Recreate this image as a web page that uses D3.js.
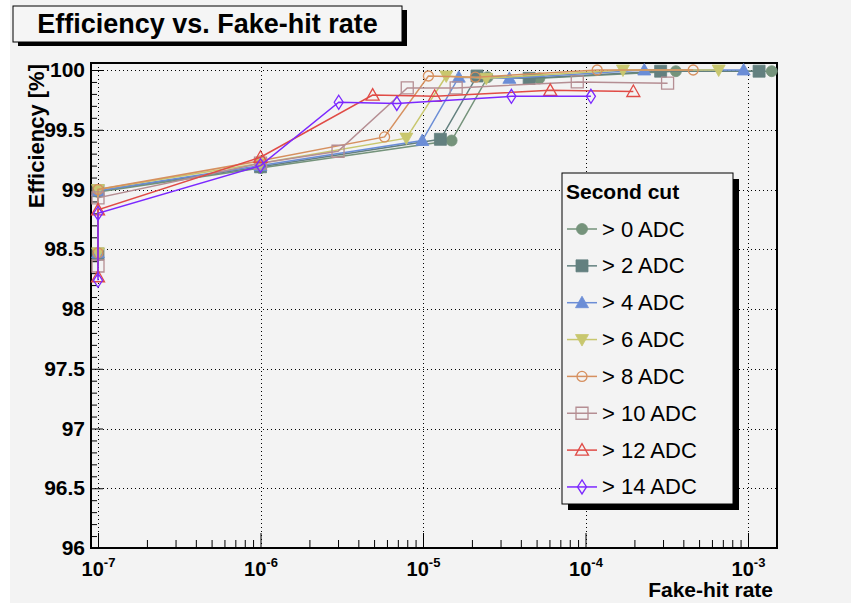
<!DOCTYPE html>
<html>
<head>
<meta charset="utf-8">
<script src="https://cdn.jsdelivr.net/npm/d3@7"></script>
<style>
  body { margin: 0; background: #fff; }
  text { font-family: "Liberation Sans", Arial, Helvetica, sans-serif; }
</style>
</head>
<body>
<svg id="chart" width="851" height="605"></svg>
<script>
// ---- data: fake-hit rate vs. efficiency [%] for each second-cut threshold ----
const cutLabels = ["> 0 ADC", "> 2 ADC", "> 4 ADC", "> 6 ADC", "> 8 ADC", "> 10 ADC", "> 12 ADC", "> 14 ADC"];

const rateGt0  = [1.40e-3, 3.6e-4, 5.2e-5, 2.5e-5, 1.5e-5, 1e-6, 1e-7, 1e-7];
const effGt0   = [99.99, 99.99, 99.93, 99.94, 99.41, 99.18, 98.98, 98.45];
const rateGt2  = [1.17e-3, 2.9e-4, 4.5e-5, 2.15e-5, 1.28e-5, 1e-6, 1e-7, 1e-7];
const effGt2   = [99.99, 99.99, 99.93, 99.95, 99.42, 99.19, 98.99, 98.46];
const rateGt4  = [9.4e-4, 2.3e-4, 3.4e-5, 1.66e-5, 9.9e-6, 1e-6, 1e-7, 1e-7];
const effGt4   = [100.0, 100.0, 99.93, 99.94, 99.41, 99.20, 98.99, 98.47];
const rateGt6  = [6.6e-4, 1.7e-4, 2.45e-5, 1.39e-5, 7.9e-6, 1e-6, 1e-7, 1e-7];
const effGt6   = [100.0, 100.0, 99.93, 99.95, 99.43, 99.22, 99.00, 98.47];
const rateGt8  = [4.6e-4, 1.18e-4, 2.1e-5, 1.08e-5, 5.8e-6, 1e-6, 1e-7, 1e-7];
const effGt8   = [100.0, 100.0, 99.94, 99.95, 99.44, 99.24, 99.00, 98.47];
const rateGt10 = [3.2e-4, 8.9e-5, 1.6e-5, 8.0e-6, 3.0e-6, 1e-6, 1e-7, 1e-7];
const effGt10  = [99.89, 99.90, 99.85, 99.85, 99.32, 99.22, 98.93, 98.36];
const rateGt12 = [1.97e-4, 6.07e-5, 1.18e-5, 4.9e-6, 1e-6, 1e-7, 1e-7];
const effGt12  = [99.82, 99.83, 99.78, 99.79, 99.27, 98.83, 98.27];
const rateGt14 = [1.08e-4, 3.5e-5, 6.9e-6, 3.03e-6, 1e-6, 1e-7, 1e-7];
const effGt14  = [99.78, 99.78, 99.72, 99.73, 99.20, 98.80, 98.24];

const yMajorTicks = [96, 96.5, 97, 97.5, 98, 98.5, 99, 99.5, 100];
const xDecadeTicks = [1e-7, 1e-6, 1e-5, 1e-4, 1e-3];
const xDecadeExponents = ["-7", "-6", "-5", "-4", "-3"];

// ---- styles ----
const seriesColors = ["#75937b", "#63807f", "#6b8dd6", "#c8c76e", "#d6905f", "#b58e93", "#e04b46", "#7b28ff"];
const markerKinds = ["circleFull", "squareFull", "triUpFull", "triDownFull", "circleOpen", "squareOpen", "triUpOpen", "diamondOpen"];

const rates = [rateGt0, rateGt2, rateGt4, rateGt6, rateGt8, rateGt10, rateGt12, rateGt14];
const effs  = [effGt0, effGt2, effGt4, effGt6, effGt8, effGt10, effGt12, effGt14];
const series = cutLabels.map((label, i) => ({
  label,
  color: seriesColors[i],
  marker: markerKinds[i],
  points: rates[i].map((r, j) => ({ rate: r, eff: effs[i][j] }))
}));

// ---- layout ----
const svg = d3.select("#chart");
const frame = { left: 91, right: 777, top: 63, bottom: 548 };

// canvas background
svg.append("rect").attr("x", 10).attr("y", 0).attr("width", 841).attr("height", 603).attr("fill", "#f3f3f3");

const x = d3.scaleLog()
  .domain([Math.pow(10, -7 - 7 / 162.5), Math.pow(10, -3 + 29 / 162.5)])
  .range([frame.left, frame.right]);
const y = d3.scaleLinear()
  .domain([96, 100 + 7 / 119.5])
  .range([frame.bottom, frame.top]);

// dotted grid
const grid = svg.append("g").attr("stroke", "#000").attr("stroke-width", 1).attr("stroke-dasharray", "1,3");
grid.selectAll("line.gy").data(yMajorTicks.filter(v => v > 96)).join("line")
  .attr("x1", frame.left).attr("x2", frame.right)
  .attr("y1", d => Math.round(y(d)) + 0.5).attr("y2", d => Math.round(y(d)) + 0.5);
grid.selectAll("line.gx").data(xDecadeTicks).join("line")
  .attr("x1", d => Math.round(x(d)) + 0.5).attr("x2", d => Math.round(x(d)) + 0.5)
  .attr("y1", frame.top).attr("y2", frame.bottom);

// y axis
const yMinor = d3.range(960, 1001).map(v => v / 10).filter(v => Math.abs(v * 2 - Math.round(v * 2)) > 1e-6);
svg.append("g").attr("transform", `translate(${frame.left},0)`)
  .call(d3.axisLeft(y).tickValues(yMinor).tickSize(-6).tickFormat(""))
  .call(g => g.select(".domain").remove())
  .call(g => g.selectAll("line").attr("stroke", "#000"));
svg.append("g").attr("transform", `translate(${frame.left},0)`)
  .call(d3.axisLeft(y).tickValues(yMajorTicks).tickSize(-12).tickPadding(6).tickFormat(d3.format("")))
  .call(g => g.select(".domain").remove())
  .call(g => g.selectAll("line").attr("stroke", "#000"))
  .call(g => g.selectAll("text")
    .attr("font-size", 21).attr("font-weight", "bold").attr("fill", "#000")
    .attr("font-family", "'Liberation Sans', Arial, sans-serif"));

// x axis
const xMinor = [];
xDecadeTicks.forEach(d => { for (let k = 2; k <= 9; k++) { const v = d * k; if (v < x.domain()[1]) xMinor.push(v); } });
svg.append("g").attr("transform", `translate(0,${frame.bottom})`)
  .call(d3.axisBottom(x).tickValues(xMinor).tickSize(-8).tickFormat(""))
  .call(g => g.select(".domain").remove())
  .call(g => g.selectAll("line").attr("stroke", "#000"));
const xAxisG = svg.append("g").attr("transform", `translate(0,${frame.bottom})`)
  .call(d3.axisBottom(x).tickValues(xDecadeTicks).tickSize(-15).tickFormat(""))
  .call(g => g.select(".domain").remove())
  .call(g => g.selectAll("line").attr("stroke", "#000"));
xAxisG.selectAll(".tick text").remove();
xAxisG.selectAll(".tick").each(function(d, i) {
  const t = d3.select(this).append("text")
    .attr("y", 28).attr("text-anchor", "middle").attr("fill", "#000")
    .attr("font-weight", "bold").attr("font-family", "'Liberation Sans', Arial, sans-serif");
  t.append("tspan").attr("font-size", 20).text("10");
  t.append("tspan").attr("font-size", 13).attr("dy", -9).text(xDecadeExponents[i]);
});

// frame
svg.append("rect")
  .attr("x", frame.left).attr("y", frame.top)
  .attr("width", frame.right - frame.left).attr("height", frame.bottom - frame.top)
  .attr("fill", "none").attr("stroke", "#000").attr("stroke-width", 2);

// axis titles
svg.append("text").attr("x", 773).attr("y", 597).attr("text-anchor", "end")
  .attr("font-size", 21).attr("font-weight", "bold").text("Fake-hit rate");
svg.append("text").attr("transform", "translate(44,64) rotate(-90)").attr("text-anchor", "end")
  .attr("font-size", 22).attr("font-weight", "bold").text("Efficiency [%]");

// marker shapes
const markerPath = {
  circleFull:  d3.symbol(d3.symbolCircle, Math.PI * 5.5 * 5.5)(),
  squareFull:  "M-6,-6h12v12h-12Z",
  triUpFull:   "M0,-6.5L6.5,5L-6.5,5Z",
  triDownFull: "M0,6.5L6.5,-5L-6.5,-5Z",
  circleOpen:  d3.symbol(d3.symbolCircle, Math.PI * 5 * 5)(),
  squareOpen:  "M-6,-6h12v12h-12Z",
  triUpOpen:   "M0,-6.5L6.5,5L-6.5,5Z",
  diamondOpen: "M0,-7L4.5,0L0,7L-4.5,0Z"
};
const isOpen = k => k.endsWith("Open");
function drawMarker(sel, kind, color) {
  sel.attr("d", markerPath[kind])
    .attr("fill", isOpen(kind) ? "none" : color)
    .attr("stroke", color)
    .attr("stroke-width", isOpen(kind) ? 1.3 : 0.8);
}

// series lines and markers
const line = d3.line().x(d => x(d.rate)).y(d => y(d.eff));
const plot = svg.append("g");
series.forEach(s => {
  const g = plot.append("g");
  g.append("path").attr("d", line(s.points)).attr("fill", "none")
    .attr("stroke", s.color).attr("stroke-width", 1.5);
  g.selectAll("path.m").data(s.points).join("path").attr("class", "m")
    .attr("transform", d => `translate(${x(d.rate)},${y(d.eff)})`)
    .call(sel => drawMarker(sel, s.marker, s.color));
});

// legend
const leg = { x: 562, y: 173, w: 171, h: 331, rowY0: 229, rowStep: 36.85 };
svg.append("rect").attr("x", leg.x + 6).attr("y", leg.y + 6).attr("width", leg.w).attr("height", leg.h).attr("fill", "#000");
svg.append("rect").attr("x", leg.x).attr("y", leg.y).attr("width", leg.w).attr("height", leg.h)
  .attr("fill", "#f3f3f3").attr("stroke", "#000").attr("stroke-width", 1);
svg.append("text").attr("x", leg.x + 4).attr("y", 199).attr("font-size", 21).attr("font-weight", "bold").text("Second cut");
series.forEach((s, i) => {
  const cy = leg.rowY0 + i * leg.rowStep;
  svg.append("line").attr("x1", leg.x + 5).attr("x2", leg.x + 35).attr("y1", cy).attr("y2", cy)
    .attr("stroke", s.color).attr("stroke-width", 1.5);
  svg.append("path").attr("transform", `translate(${leg.x + 20},${cy})`).call(sel => drawMarker(sel, s.marker, s.color));
  svg.append("text").attr("x", leg.x + 40).attr("y", cy + 7.5).attr("font-size", 22).text(s.label);
});

// title box
const tb = { x: 13, y: 6, w: 389, h: 36 };
svg.append("rect").attr("x", tb.x + 5).attr("y", tb.y + 4).attr("width", tb.w).attr("height", tb.h).attr("fill", "#000");
svg.append("rect").attr("x", tb.x).attr("y", tb.y).attr("width", tb.w).attr("height", tb.h)
  .attr("fill", "#f5f5f5").attr("stroke", "#000").attr("stroke-width", 1);
svg.append("text").attr("x", tb.x + tb.w / 2).attr("y", 33).attr("text-anchor", "middle")
  .attr("font-size", 27).attr("font-weight", "bold").text("Efficiency vs. Fake-hit rate");
</script>
</body>
</html>
